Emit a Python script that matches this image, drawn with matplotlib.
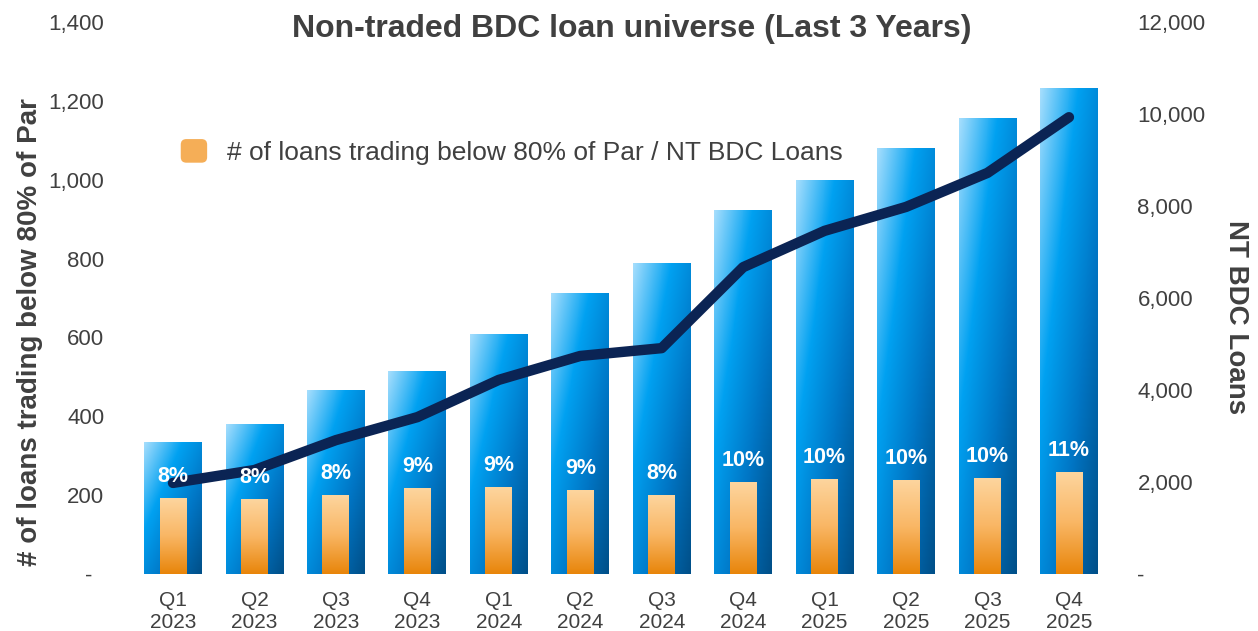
import numpy as np
import matplotlib.pyplot as plt
from matplotlib.colors import LinearSegmentedColormap
from matplotlib.patches import FancyBboxPatch
from matplotlib.legend_handler import HandlerPatch
from matplotlib.patches import Patch
from matplotlib.ticker import FuncFormatter

plt.rcParams['font.family'] = ['Liberation Sans', 'DejaVu Sans']

quarters = ['Q1', 'Q2', 'Q3', 'Q4', 'Q1', 'Q2', 'Q3', 'Q4', 'Q1', 'Q2', 'Q3', 'Q4']
years = ['2023'] * 4 + ['2024'] * 4 + ['2025'] * 4
# total NT BDC loans (bars, right axis)
nt_bdc_loans = [2850, 3250, 4000, 4400, 5200, 6100, 6750, 7900, 8550, 9250, 9900, 10550]
# line series (right axis)
line_vals = [1980, 2260, 2910, 3410, 4220, 4740, 4910, 6670, 7460, 7980, 8720, 9930]
# loans trading below 80% of par (left axis)
below_80 = [191, 188, 198, 216, 219, 211, 198, 232, 239, 237, 242, 257]
pct_labels = ['8%', '8%', '8%', '9%', '9%', '9%', '8%', '10%', '10%', '10%', '10%', '11%']

text_col = '#404040'
blue_cmap = LinearSegmentedColormap.from_list('blue', ['#a6defd', '#00a1f1', '#0075c4', '#004f88'])
orange_cmap = LinearSegmentedColormap.from_list('orange', ['#fdd59e', '#f9b664', '#e8850a'])

x = np.arange(len(quarters))
fig = plt.figure(figsize=(12.58, 6.31), dpi=100)
ax = fig.add_axes([110 / 1258, 1 - 574 / 631, 1015 / 1258, 552 / 631])
ax2 = ax.twinx()
ax.set_zorder(ax2.get_zorder() + 1)
ax.patch.set_visible(False)

# diagonal gradient for blue bars, vertical for orange
u, v = np.meshgrid(np.linspace(0, 1, 64), np.linspace(0, 1, 128))
blue_img = blue_cmap((u + v) / 2)
orange_img = orange_cmap(v)

bars = ax2.bar(x, nt_bdc_loans, 0.71, color='none', edgecolor='none')
for b in bars:
    x0, y0 = b.get_x(), b.get_y()
    ax2.imshow(blue_img, extent=(x0, x0 + b.get_width(), y0, y0 + b.get_height()),
               aspect='auto', interpolation='bilinear', zorder=1)
ax2.plot(x, line_vals, color='#0b2454', lw=7.5, solid_capstyle='round',
         solid_joinstyle='round', zorder=3)

obars = ax.bar(x, below_80, 0.33, color='none', edgecolor='none')
for b in obars:
    x0, y0 = b.get_x(), b.get_y()
    ax.imshow(orange_img, extent=(x0, x0 + b.get_width(), y0, y0 + b.get_height()),
              aspect='auto', interpolation='bilinear', zorder=2)
for xi, val, lab in zip(x, below_80, pct_labels):
    ax.annotate(lab, (xi, val), xytext=(0, 16), textcoords='offset points',
                ha='center', va='center', color='white', fontsize=15.5, fontweight='bold', zorder=5)

xmin = -0.7735
ax.set_xlim(xmin, xmin + 1015 / 81.45)
ax.set_ylim(0, 1400)
ax2.set_ylim(0, 12000)
ax.set_yticks(np.arange(0, 1401, 200))
ax2.set_yticks(np.arange(0, 12001, 2000))
ax.yaxis.set_major_formatter(FuncFormatter(lambda val, p: '-\u00a0\u00a0' if val == 0 else f'{val:,.0f}'))
ax2.yaxis.set_major_formatter(FuncFormatter(lambda val, p: '-' if val == 0 else f'{val:,.0f}'))
ax.set_xticks(x)
ax.set_xticklabels([f'{q}\n{y}' for q, y in zip(quarters, years)])

for a in (ax, ax2):
    for s in a.spines.values():
        s.set_visible(False)
ax.tick_params(axis='y', length=0, pad=4, labelsize=16, labelcolor=text_col)
ax2.tick_params(axis='y', length=0, pad=9, labelsize=16, labelcolor=text_col)
ax.tick_params(axis='x', length=0, pad=12.5, labelsize=15, labelcolor=text_col)
ax2.tick_params(axis='x', length=0)

fig.text(632 / 1258, 1 - 37 / 631, 'Non-traded BDC loan universe (Last 3 Years)',
         ha='center', va='baseline', fontsize=23, fontweight='bold', color=text_col)
fig.text(30 / 1258, 1 - 332 / 631, '# of loans trading below 80% of Par', rotation=90,
         ha='center', va='center', fontsize=20, fontweight='bold', color=text_col)
fig.text(1236 / 1258, 1 - 317 / 631, 'NT BDC Loans', rotation=270,
         ha='center', va='center', fontsize=20, fontweight='bold', color=text_col)


def rounded_handle(legend, orig_handle, xdescent, ydescent, width, height, fontsize):
    return FancyBboxPatch((-xdescent, -ydescent), width, height,
                          boxstyle='round,pad=0,rounding_size=4')


ax.legend(handles=[Patch(facecolor='#f5ae57', edgecolor='none')],
          labels=['# of loans trading below 80% of Par / NT BDC Loans'],
          handler_map={Patch: HandlerPatch(patch_func=rounded_handle)},
          loc='center left', bbox_to_anchor=(157 / 1258, 1 - 152 / 631),
          bbox_transform=fig.transFigure, frameon=False, fontsize=19,
          handlelength=1.0, handleheight=1.0, handletextpad=0.75,
          labelcolor=text_col)

fig.savefig('out.png', dpi=100)
